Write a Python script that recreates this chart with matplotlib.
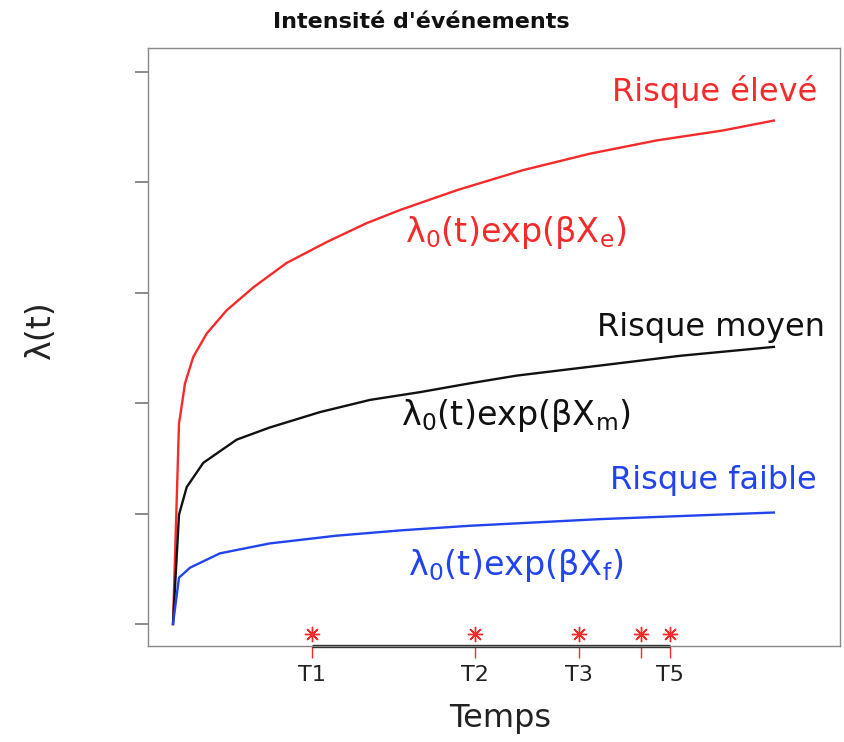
import matplotlib
matplotlib.use("Agg")
import matplotlib.pyplot as plt
import matplotlib.transforms as mtransforms

plt.rcParams["mathtext.default"] = "regular"
plt.rcParams["mathtext.fontset"] = "dejavusans"

# === Données ===
t_eleve = [0, 1.0, 1.16, 2.0, 3.38, 5.6, 8.9, 13.4, 18.9, 25.6, 32.2, 37.8,
           47.3, 58.2, 69.4, 80.5, 91.5, 100]
lam_eleve = [0, 1.82, 1.87, 2.18, 2.42, 2.63, 2.84, 3.05, 3.27, 3.46, 3.63, 3.75,
             3.93, 4.11, 4.26, 4.38, 4.47, 4.56]

t_moyen = [0, 1.0, 2.28, 5.04, 10.6, 16.1, 24.5, 32.8, 41.1, 49.4, 57.2, 70.9, 84.5, 100]
lam_moyen = [0, 0.99, 1.24, 1.46, 1.67, 1.78, 1.92, 2.03, 2.10, 2.18, 2.25, 2.34, 2.43, 2.51]

t_faible = [0, 1.0, 2.83, 7.8, 16.1, 27.2, 38.3, 49.4, 71.0, 100]
lam_faible = [0, 0.42, 0.51, 0.64, 0.73, 0.80, 0.85, 0.89, 0.95, 1.01]

t_events = [23.2, 50.3, 67.5, 77.8, 82.7]
event_labels = ["T1", "T2", "T3", "", "T5"]   # T4 masqué (chevauchement)
y_ticks = [0, 1, 2, 3, 4, 5]

ROUGE = "#f52a2a"
NOIR = "#111111"
BLEU = "#2244ee"

fig = plt.figure(figsize=(8.45, 7.42), dpi=100)
ax = fig.add_axes([148 / 845, 96 / 742, 692 / 845, 598 / 742])

ax.plot(t_eleve, lam_eleve, color=ROUGE, lw=1.7)
ax.plot(t_moyen, lam_moyen, color=NOIR, lw=1.7)
ax.plot(t_faible, lam_faible, color=BLEU, lw=1.7)

# événements (astérisques rouges)
ax.plot(t_events, [-0.09] * len(t_events), linestyle="none", marker=(8, 2, 0),
        markersize=11, color=ROUGE, mew=1.0)

ax.set_xlim(-4.16, 111.0)
ax.set_ylim(-0.199, 5.217)

# axe des x : ligne entre le premier et le dernier tick
trans = mtransforms.blended_transform_factory(ax.transData, ax.transAxes)
ax.plot([t_events[0], t_events[-1]], [0, 0], transform=trans, color="#222222",
        lw=2.4, clip_on=False, solid_capstyle="butt")

ax.set_xticks(t_events)
ax.set_xticklabels(event_labels, fontsize=16)
ax.tick_params(axis="x", colors=ROUGE, labelcolor="#222222", length=8.5, width=1.0, pad=5)
ax.set_yticks(y_ticks)
ax.set_yticklabels([])
ax.tick_params(axis="y", colors="#777777", length=9.4, width=1.2)

for s in ax.spines.values():
    s.set_color("#888888")
    s.set_linewidth(1.0)

# textes
ax.text(90.2, 4.82, "Risque élevé", color=ROUGE, fontsize=23, ha="center", va="center")
ax.text(57.1, 3.55, r"$\lambda_0$(t)exp($\beta$X$_e$)", color=ROUGE, fontsize=24,
        ha="center", va="center")
ax.text(89.5, 2.69, "Risque moyen", color=NOIR, fontsize=23, ha="center", va="center")
ax.text(57.1, 1.89, r"$\lambda_0$(t)exp($\beta$X$_m$)", color=NOIR, fontsize=24,
        ha="center", va="center")
ax.text(90.0, 1.30, "Risque faible", color=BLEU, fontsize=23, ha="center", va="center")
ax.text(57.1, 0.53, r"$\lambda_0$(t)exp($\beta$X$_f$)", color=BLEU, fontsize=24,
        ha="center", va="center")

fig.text(421 / 845, 1 - 22 / 742, "Intensité d'événements", fontsize=16,
         fontweight="bold", ha="center", va="center", color="#111111")
fig.text(40 / 845, 1 - 330 / 742, "λ(t)", fontsize=24, rotation=90,
         ha="center", va="center", color="#222222")
fig.text(500 / 845, 1 - 718 / 742, "Temps", fontsize=23, ha="center", va="center",
         color="#222222")

fig.savefig("out.png", dpi=100)
plt.close(fig)
